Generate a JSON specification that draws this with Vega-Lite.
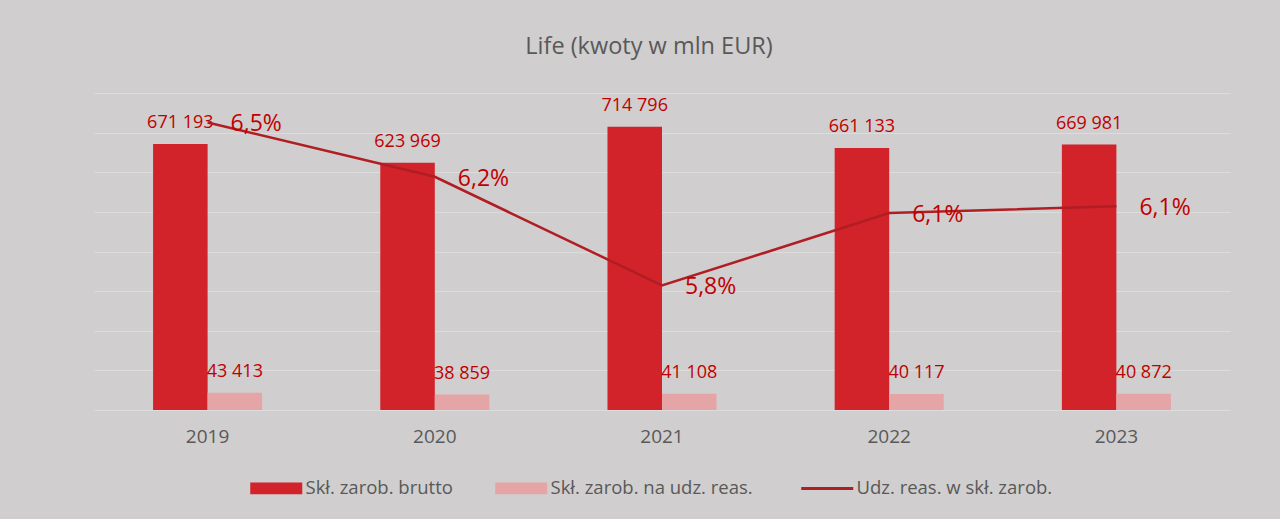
{
  "$schema": "https://vega.github.io/schema/vega-lite/v6.json",
  "width": 1136,
  "height": 317,
  "autosize": {"type": "none"},
  "padding": {"left": 94, "top": 93, "right": 50, "bottom": 109},
  "background": "#d0cece",
  "title": {
    "text": "Life (kwoty w mln EUR)",
    "font": "Open Sans",
    "fontSize": 23.5,
    "fontWeight": "normal",
    "color": "#595959",
    "anchor": "middle",
    "dx": -13,
    "offset": 35
  },
  "datasets": {
    "bars": [
      {"year": "2019", "series": "Skł. zarob. brutto", "value": 671193},
      {"year": "2019", "series": "Skł. zarob. na udz. reas.", "value": 43413},
      {"year": "2020", "series": "Skł. zarob. brutto", "value": 623969},
      {"year": "2020", "series": "Skł. zarob. na udz. reas.", "value": 38859},
      {"year": "2021", "series": "Skł. zarob. brutto", "value": 714796},
      {"year": "2021", "series": "Skł. zarob. na udz. reas.", "value": 41108},
      {"year": "2022", "series": "Skł. zarob. brutto", "value": 661133},
      {"year": "2022", "series": "Skł. zarob. na udz. reas.", "value": 40117},
      {"year": "2023", "series": "Skł. zarob. brutto", "value": 669981},
      {"year": "2023", "series": "Skł. zarob. na udz. reas.", "value": 40872}
    ],
    "ratio": [
      {"year": "2019", "pct": 0.0647},
      {"year": "2020", "pct": 0.0623},
      {"year": "2021", "pct": 0.0575},
      {"year": "2022", "pct": 0.0607},
      {"year": "2023", "pct": 0.0610}
    ]
  },
  "layer": [
    {
      "data": {"name": "bars"},
      "encoding": {
        "x": {
          "field": "year", "type": "nominal",
          "scale": {"paddingInner": 0.52, "paddingOuter": 0.26},
          "axis": {"title": null, "labelAngle": 0, "domain": false, "ticks": false, "tickSize": 0, "labelPadding": 17, "labelFont": "Open Sans", "labelFontSize": 19, "labelColor": "#595959", "grid": false}
        },
        "xOffset": {
          "field": "series", "type": "nominal",
          "sort": ["Skł. zarob. brutto", "Skł. zarob. na udz. reas."],
          "scale": {"paddingInner": 0, "paddingOuter": 0}
        },
        "y": {
          "field": "value", "type": "quantitative",
          "scale": {"domain": [0, 800000], "nice": false},
          "axis": {"title": null, "labels": false, "ticks": false, "domain": false, "grid": true, "values": [0, 100000, 200000, 300000, 400000, 500000, 600000, 700000, 800000], "gridColor": "#dddcdc", "gridWidth": 1.2}
        }
      },
      "layer": [
        {
          "mark": {"type": "bar"},
          "encoding": {
            "color": {
              "field": "series", "type": "nominal",
              "scale": {
                "domain": ["Skł. zarob. brutto", "Skł. zarob. na udz. reas.", "Udz. reas. w skł. zarob."],
                "range": ["#d2232a", "#e5a4a6", "#b01e24"]
              },
              "legend": {
                "title": null,
                "orient": "none",
                "legendX": 173,
                "legendY": 386,
                "direction": "horizontal",
                "padding": 0,
                "columnPadding": 42,
                "symbolSize": 2704,
                "labelFont": "Open Sans",
                "labelFontSize": 18.5,
                "labelColor": "#595959",
                "labelOffset": 2,
                "labelLimit": 400,
                "encode": {
                  "symbols": {
                    "update": {
                      "size": {"value": 2704},
                      "shape": {"signal": "datum.value === 'Udz. reas. w skł. zarob.' ? 'stroke' : 'M-1,-0.23H1V0.23H-1Z'"},
                      "fill": {"signal": "datum.value === 'Udz. reas. w skł. zarob.' ? 'transparent' : scale('color', datum.value)"},
                      "stroke": {"signal": "scale('color', datum.value)"},
                      "strokeWidth": {"signal": "datum.value === 'Udz. reas. w skł. zarob.' ? 3 : 0"},
                      "opacity": {"value": 1}
                    }
                  },
                  "labels": {
                    "update": {
                      "dx": {"value": 18}
                    }
                  }
                }
              }
            }
          }
        },
        {
          "mark": {"type": "text", "font": "Open Sans", "fontSize": 18, "color": "#c00000", "baseline": "alphabetic", "dy": -16},
          "encoding": {
            "text": {"field": "value", "type": "quantitative", "format": ",.0f"}
          }
        }
      ]
    },
    {
      "data": {"name": "ratio"},
      "encoding": {
        "x": {"field": "year", "type": "nominal", "scale": {"paddingInner": 0.52, "paddingOuter": 0.26}},
        "y": {"field": "pct", "type": "quantitative", "scale": {"domain": [0.052, 0.066], "nice": false, "zero": false}, "axis": null}
      },
      "layer": [
        {
          "mark": {"type": "line", "strokeWidth": 2.5},
          "encoding": {
            "color": {"datum": "Udz. reas. w skł. zarob."}
          }
        },
        {
          "mark": {"type": "text", "font": "Open Sans", "fontSize": 23, "color": "#c00000", "align": "left", "baseline": "middle", "dx": 23, "dy": 2},
          "encoding": {
            "text": {"field": "pct", "type": "quantitative", "format": ".1%"}
          }
        }
      ]
    }
  ],
  "resolve": {"scale": {"y": "independent"}},
  "config": {
    "locale": {
      "number": {"decimal": ",", "thousands": " ", "grouping": [3], "currency": ["", " EUR"]}
    },
    "view": {"stroke": null},
    "font": "Open Sans"
  }
}
